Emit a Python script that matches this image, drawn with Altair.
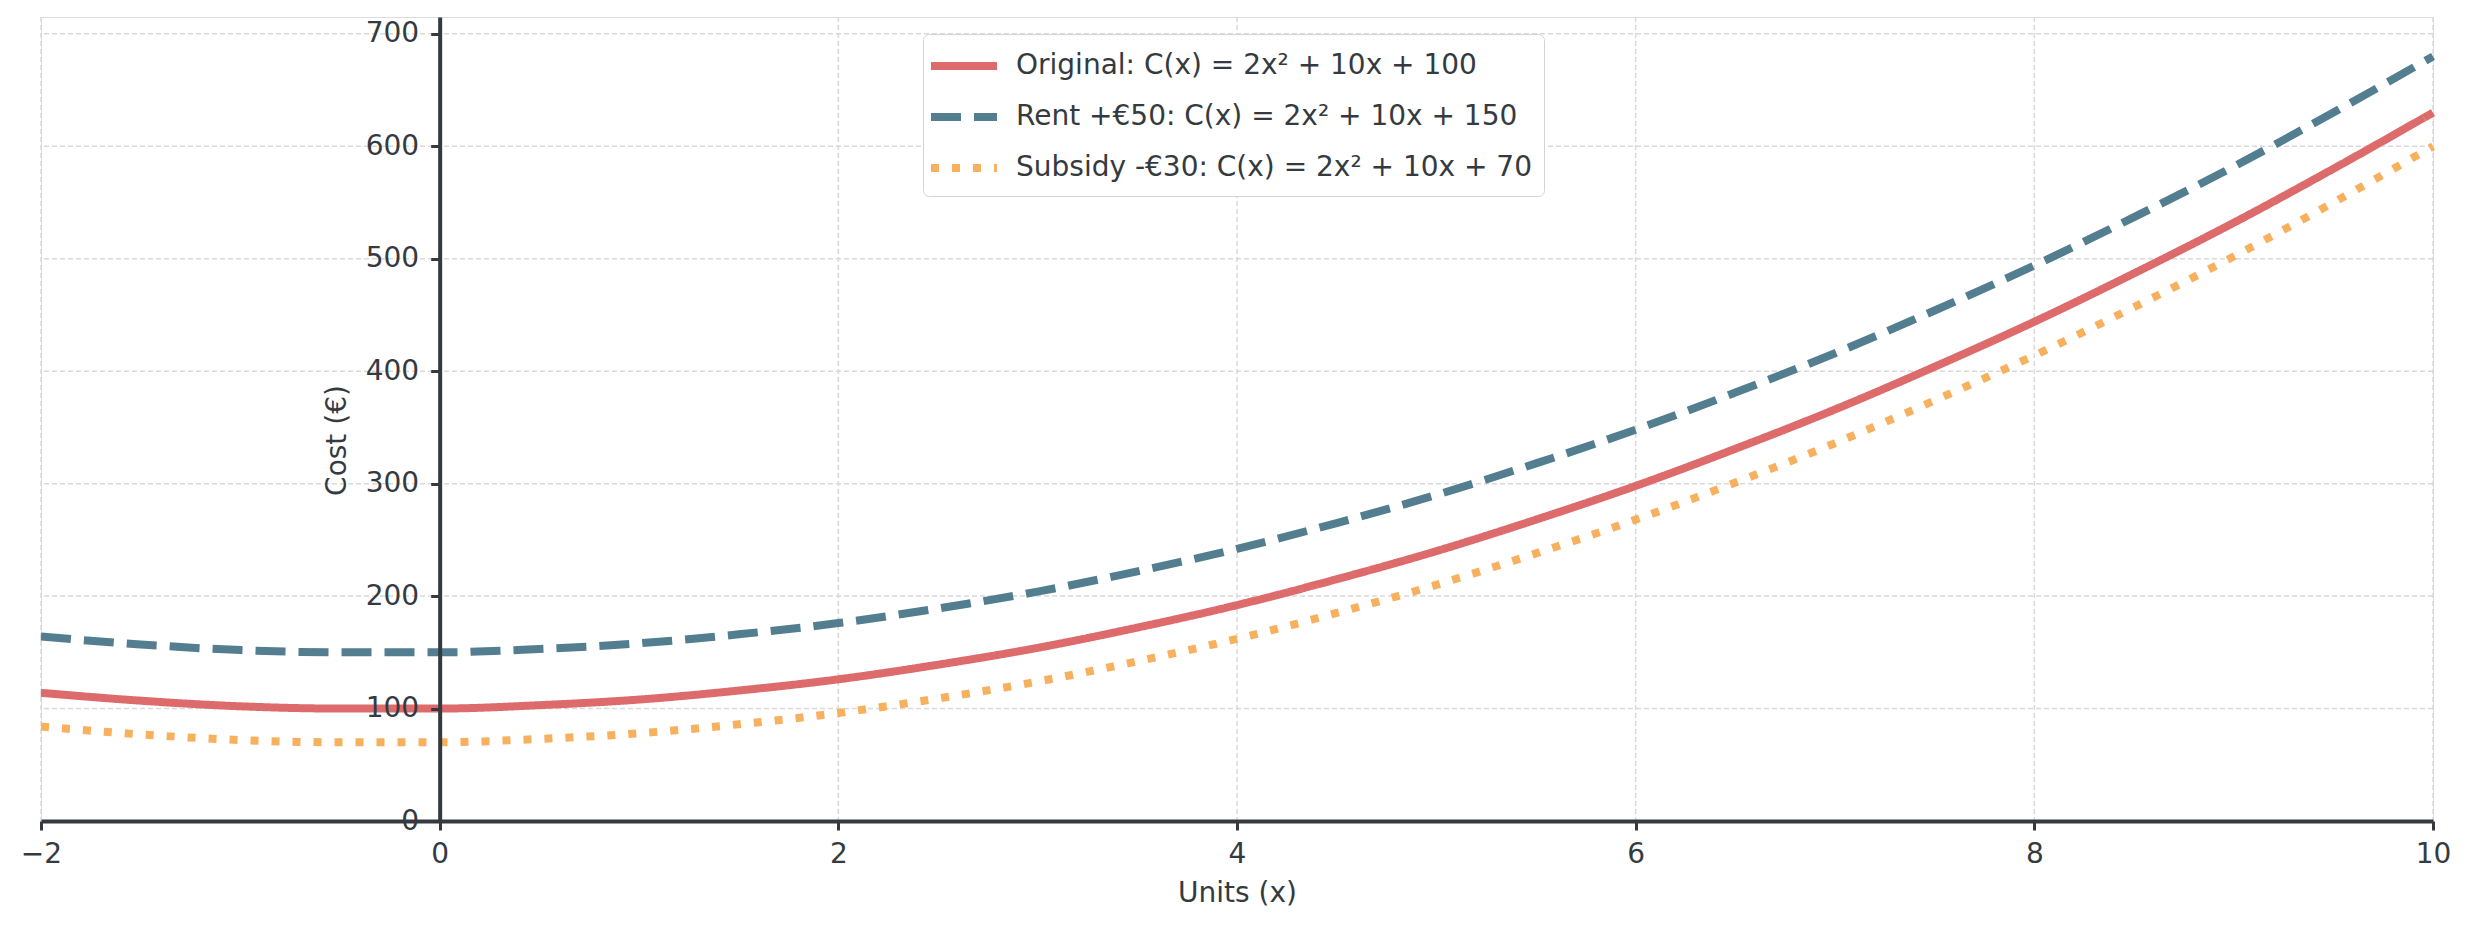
import altair as alt
import pandas as pd

# ---- data ----
x_vals = [-2, -1.5, -1, -0.5, 0, 0.5, 1, 1.5, 2, 2.5, 3, 3.5, 4, 4.5, 5,
          5.5, 6, 6.5, 7, 7.5, 8, 8.5, 9, 9.5, 10]
original = [114, 107, 102, 100, 100, 103, 108, 116, 126, 139, 154, 172, 192,
            215, 240, 268, 298, 331, 366, 404, 444, 487, 532, 580, 630]
rent = [164, 157, 152, 150, 150, 153, 158, 166, 176, 189, 204, 222, 242,
        265, 290, 318, 348, 381, 416, 454, 494, 537, 582, 630, 680]
subsidy = [84, 77, 72, 70, 70, 73, 78, 86, 96, 109, 124, 142, 162,
           185, 210, 238, 268, 301, 336, 374, 414, 457, 502, 550, 600]

series_names = [
    "Original: C(x) = 2x² + 10x + 100",
    "Rent +€50: C(x) = 2x² + 10x + 150",
    "Subsidy -€30: C(x) = 2x² + 10x + 70",
]
series_colors = ["#dd6b6b", "#527e90", "#f7b05e"]
series_dashes = [[1, 0], [30, 13], [8, 13]]

x_ticks = [-2, 0, 2, 4, 6, 8, 10]
y_ticks = [0, 100, 200, 300, 400, 500, 600, 700]

rows = []
for name, vals in zip(series_names, [original, rent, subsidy]):
    for xv, yv in zip(x_vals, vals):
        rows.append({"x": xv, "cost": yv, "series": name})
df = pd.DataFrame(rows)

xgrid_df = pd.DataFrame({"x": x_ticks})
ygrid_df = pd.DataFrame({"cost": y_ticks})

W, H = 2392, 804
X_DOMAIN = [-2, 10]
Y_DOMAIN = [0, 715]
TEXT = "#343a40"
FONT = "DejaVu Sans"

x_scale = alt.Scale(domain=X_DOMAIN, nice=False, zero=False)
y_scale = alt.Scale(domain=Y_DOMAIN, nice=False)

x_axis = alt.Axis(
    values=x_ticks, grid=False, title="Units (x)", labelFlush=False,
    labelFontSize=28, labelFont=FONT, labelColor=TEXT, labelPadding=10,
    tickSize=9, tickWidth=3, tickColor=TEXT,
    domainColor=TEXT, domainWidth=4,
    titleFontSize=28, titleFont=FONT, titleColor=TEXT, titleFontWeight="normal",
    titleY=72, titleBaseline="middle", zindex=1,
)
y_axis = alt.Axis(
    values=y_ticks, grid=False, title="Cost (€)",
    offset=-W * 2 / 12,
    labelFontSize=28, labelFont=FONT, labelColor=TEXT, labelPadding=12,
    tickSize=9, tickWidth=3, tickColor=TEXT,
    domainColor=TEXT, domainWidth=4,
    titleFontSize=28, titleFont=FONT, titleColor=TEXT, titleFontWeight="normal",
    titleX=-102, titleY=423, titleAngle=270, titleAlign="center",
    titleBaseline="middle", zindex=1,
)

grid_x = alt.Chart(xgrid_df).mark_rule(
    stroke="#d9d9d9", strokeWidth=1.5, strokeDash=[5, 3]
).encode(x=alt.X("x:Q", scale=x_scale, axis=x_axis))

grid_y = alt.Chart(ygrid_df).mark_rule(
    stroke="#d9d9d9", strokeWidth=1.5, strokeDash=[5, 3]
).encode(y=alt.Y("cost:Q", scale=y_scale, axis=y_axis))

legend = alt.Legend(
    title=None, orient="none", legendX=882, legendY=17,
    symbolType="M-2,0H2", symbolSize=1089, symbolStrokeWidth=8,
    symbolOffset=9, labelOffset=31.5, padding=11.5, rowPadding=14,
    labelFontSize=28, labelFont=FONT, labelColor=TEXT, labelLimit=2000,
    strokeColor="#d4d4d4", fillColor="white", cornerRadius=6,
)

lines = alt.Chart(df).mark_line(strokeWidth=8, interpolate="monotone").encode(
    x=alt.X("x:Q", scale=x_scale, axis=x_axis),
    y=alt.Y("cost:Q", scale=y_scale, axis=y_axis),
    color=alt.Color("series:N",
                    scale=alt.Scale(domain=series_names, range=series_colors),
                    legend=legend),
    strokeDash=alt.StrokeDash("series:N",
                              scale=alt.Scale(domain=series_names, range=series_dashes),
                              legend=legend),
    order=alt.Order("x:Q"),
)

chart = alt.layer(grid_x, grid_y, lines).properties(
    width=W, height=H,
    autosize=alt.AutoSizeParams(type="none"),
    padding={"left": 33, "top": 9, "right": 22, "bottom": 89},
).configure_view(stroke=None).configure(font=FONT, background="white")

chart.save("out.html", embed_options={"renderer": "svg", "actions": False})
